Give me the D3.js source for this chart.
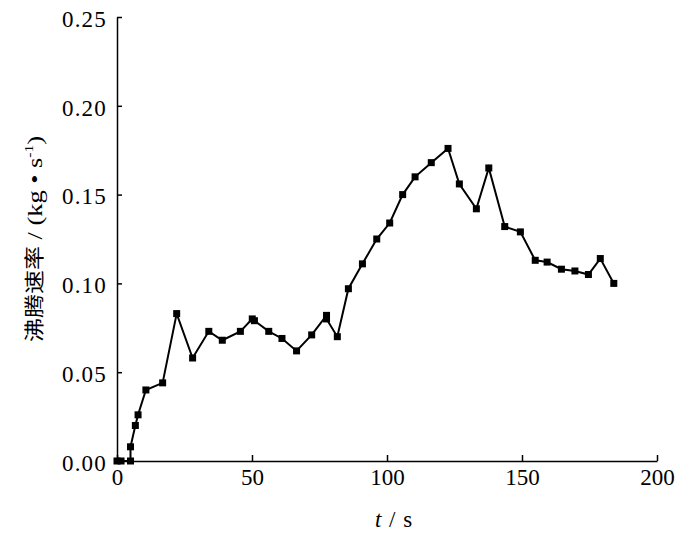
<!DOCTYPE html>
<html>
<head>
<meta charset="utf-8">
<script src="https://cdn.jsdelivr.net/npm/d3@7"></script>
</head>
<body style="margin:0;background:#fff">
<svg width="700" height="538"></svg>
<script>
// time (s)
var times = [0, 1.5, 5, 5, 6.8, 7.8, 10.7, 16.9, 22.1, 28,
  34, 39, 45.7, 50.1, 50.9, 56.2, 61.1, 66.5, 72.1, 77.6,
  77.6, 81.6, 85.7, 90.9, 96.2, 101, 105.8, 110.4, 116.4, 122.6,
  126.8, 133.1, 137.7, 143.6, 149.4, 154.9, 159.3, 164.6, 169.6, 174.6,
  179, 184];
// boiling rate (kg/s)
var rates = [0, 0, 0, 0.008, 0.020, 0.026, 0.040, 0.044, 0.083, 0.058,
  0.073, 0.068, 0.073, 0.080, 0.079, 0.073, 0.069, 0.062, 0.071, 0.082,
  0.080, 0.070, 0.097, 0.111, 0.125, 0.134, 0.150, 0.160, 0.168, 0.176,
  0.156, 0.142, 0.165, 0.132, 0.129, 0.113, 0.112, 0.108, 0.107, 0.105,
  0.114, 0.100];
var xTicks = [0, 50, 100, 150, 200];
var yTicks = [0, 0.05, 0.10, 0.15, 0.20, 0.25];

var SERIF = "'Liberation Serif', serif";
var data = times.map(function (t, i) { return { t: t, v: rates[i] }; });

var svg = d3.select("svg"),
  margin = { top: 17, right: 43, bottom: 77, left: 117 },
  width = +svg.attr("width") - margin.left - margin.right,
  height = +svg.attr("height") - margin.top - margin.bottom;

var xScale = d3.scaleLinear().domain([0, 200]).range([0, width]),
  yScale = d3.scaleLinear().domain([0, 0.25]).range([height, 0]);

var g = svg.append("g")
  .attr("transform", "translate(" + margin.left + "," + margin.top + ")");

function styleAxis(ax) {
  ax.select(".domain").style("stroke", "#000").style("stroke-width", 1.5);
  ax.selectAll(".tick line").style("stroke", "#000").style("stroke-width", 1.5);
  ax.selectAll("text")
    .style("font-family", SERIF)
    .style("font-size", "23px")
    .style("fill", "#000");
}

// x axis, ticks pointing in
var xAxis = g.append("g")
  .attr("transform", "translate(0," + height + ")")
  .call(d3.axisBottom(xScale).tickValues(xTicks).tickSize(-6).tickSizeOuter(0).tickFormat(d3.format("d")));
styleAxis(xAxis);
xAxis.selectAll("text").attr("y", 8).attr("dy", "0.71em");

// y axis
var yAxis = g.append("g")
  .call(d3.axisLeft(yScale).tickValues(yTicks).tickSize(-5).tickSizeOuter(0).tickFormat(d3.format(".2f")));
styleAxis(yAxis);
yAxis.selectAll("text").attr("x", -10).attr("dy", "0.4em").style("letter-spacing", "1.2px");

// line
var line = d3.line()
  .x(function (d) { return xScale(d.t); })
  .y(function (d) { return yScale(d.v); });

g.append("path")
  .datum(data)
  .attr("fill", "none")
  .attr("stroke", "#000")
  .attr("stroke-width", 2)
  .attr("d", line);

g.selectAll(".pt")
  .data(data)
  .enter().append("rect")
  .attr("class", "pt")
  .attr("x", function (d) { return xScale(d.t) - 3.5; })
  .attr("y", function (d) { return yScale(d.v) - 3.5; })
  .attr("width", 7)
  .attr("height", 7)
  .attr("fill", "#000");

// x label
var xl = svg.append("text")
  .attr("x", 394)
  .attr("y", 527)
  .attr("text-anchor", "middle")
  .style("font-family", SERIF)
  .style("font-size", "23px")
  .style("letter-spacing", "1px");
xl.append("tspan").style("font-style", "italic").text("t");
xl.append("tspan").text(" / s");

// y label (stretched along its direction like the source)
var yl = svg.append("text")
  .attr("transform", "translate(42," + (margin.top + height / 2) + ") rotate(-90) scale(1.2,1)")
  .attr("text-anchor", "middle")
  .style("font-family", SERIF)
  .style("font-size", "22px");
yl.append("tspan").style("font-family", "'Noto Sans CJK SC', sans-serif").style("font-size", "20px").text("沸腾速率");
yl.append("tspan").text(" / (kg • s");
yl.append("tspan").style("font-size", "13px").attr("dy", -9).text("-1");
yl.append("tspan").attr("dy", 9).text(")");
</script>
</body>
</html>
